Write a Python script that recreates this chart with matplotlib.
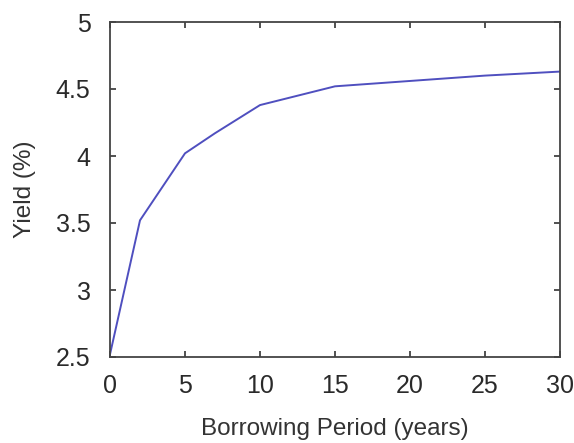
import matplotlib
matplotlib.use("Agg")
import matplotlib.pyplot as plt

plt.rcParams['font.family'] = ['Liberation Sans', 'DejaVu Sans']

# yield curve
years = [0, 2, 5, 7, 10, 15, 20, 25, 30]
yields = [2.52, 3.52, 4.02, 4.17, 4.38, 4.52, 4.56, 4.60, 4.63]

fig = plt.figure(figsize=(5.74, 4.43), dpi=100)
ax = fig.add_axes([110/574, 1-357/443, 450/574, 335/443])
ax.plot(years, yields, color='#4f4fbf', lw=1.4)

ax.set_xlim(0, 30)
ax.set_ylim(2.5, 5)
ax.set_xticks([0, 5, 10, 15, 20, 25, 30])
ax.set_yticks([2.5, 3, 3.5, 4, 4.5, 5])
ax.set_yticklabels(['2.5', '3', '3.5', '4', '4.5', '5'])
ax.tick_params(direction='in', top=True, right=True, length=4, width=1.2,
               labelsize=18, labelcolor='#2a2a2a', color='#333333')
ax.tick_params(axis='x', pad=12)
ax.tick_params(axis='y', pad=14)
for s in ax.spines.values():
    s.set_color('#444444')
    s.set_linewidth(1.3)
ax.set_xlabel('Borrowing Period (years)', fontsize=17.5, color='#333333', labelpad=15)
ax.set_ylabel('Yield (%)', fontsize=17.5, color='#333333', labelpad=14)

fig.savefig('out.png', dpi=100)
